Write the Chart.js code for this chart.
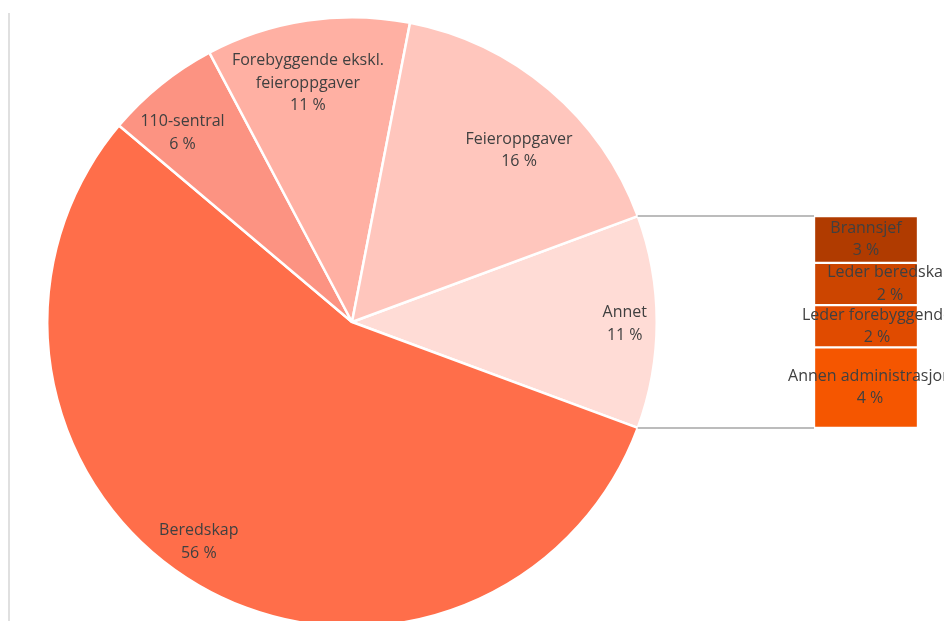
<!DOCTYPE html>
<html>
<head>
<meta charset="utf-8">
<script src="https://cdn.jsdelivr.net/npm/chart.js@4.4.0/dist/chart.umd.min.js"></script>
<style>
  html, body { margin: 0; padding: 0; background: #fff; overflow: hidden; width: 944px; height: 621px; }
  #wrap { position: relative; width: 944px; height: 621px; overflow: hidden; }
  #edge { position: absolute; left: 8px; top: 13px; width: 2px; height: 620px; background: #e0e0e0; }
  canvas { position: absolute; left: 0; top: 0; }
</style>
</head>
<body>
<div id="wrap">
  <div id="edge"></div>
  <canvas id="pie" width="944" height="650"></canvas>
  <canvas id="bar" width="944" height="650"></canvas>
</div>
<script>
// --- data ---
const pieLabels = ['Annet', 'Beredskap', '110-sentral', 'Forebyggende ekskl.\nfeieroppgaver', 'Feieroppgaver'];
const pieValues = [11.3, 55.5, 6.1, 10.8, 16.3];
const pieColors = ['#FFDCD6', '#FF6E4A', '#FC9382', '#FFB0A3', '#FFC6BD'];

const subLabels = ['Annen administrasjon', 'Leder forebyggende', 'Leder beredskap', 'Brannsjef'];
const subValues = [4.3, 2.25, 2.25, 2.5];
const subColors = ['#F55600', '#E04B00', '#CC4500', '#B03B00'];

// label placement inside slices (radius factor, angle shift in degrees)
const labelRadius = [0.895, 0.88, 0.833, 0.797, 0.786];
const labelShift = [0.4, 4.6, -3.0, -2, 3.9];
// horizontal nudge of the bar labels (px)
const subLabelNudge = [4, 11, 24, 0];

const FONT = '16px "Open Sans"';
const TEXT = '#404040';
const LINE_H = 22.5;

const pieTotal = pieValues.reduce((a, b) => a + b, 0);
const subTotal = subValues.reduce((a, b) => a + b, 0);

function drawLines(ctx, lines, x, y) {
  lines.forEach((t, j) => ctx.fillText(t, x, y + (j - (lines.length - 1) / 2) * LINE_H));
}

// --- pie labels ---
const pieLabelPlugin = {
  id: 'pieLabels',
  afterDatasetsDraw(chart) {
    const ctx = chart.ctx;
    const meta = chart.getDatasetMeta(0);
    ctx.save();
    ctx.font = FONT;
    ctx.fillStyle = TEXT;
    ctx.textAlign = 'center';
    ctx.textBaseline = 'middle';
    meta.data.forEach((arc, i) => {
      const a = (arc.startAngle + arc.endAngle) / 2 + labelShift[i] * Math.PI / 180;
      const r = arc.outerRadius * labelRadius[i];
      const x = arc.x + Math.cos(a) * r;
      const y = arc.y + Math.sin(a) * r;
      const lines = pieLabels[i].split('\n').concat(Math.round(pieValues[i] / pieTotal * 100) + ' %');
      drawLines(ctx, lines, x, y);
    });
    ctx.restore();
  }
};

// Annet slice centred on the right side
const annetAngle = pieValues[0] / pieTotal * 360;

const pieChart = new Chart(document.getElementById('pie'), {
  type: 'pie',
  data: {
    labels: pieLabels,
    datasets: [{
      data: pieValues,
      backgroundColor: pieColors,
      borderColor: '#ffffff',
      borderWidth: 2.5,
      hoverOffset: 0,
      offset: 0
    }]
  },
  options: {
    responsive: false,
    animation: false,
    rotation: 90 - annetAngle / 2,
    layout: { padding: { left: 46, right: 286, top: 16, bottom: 22 } },
    plugins: { legend: { display: false }, tooltip: { enabled: false } }
  },
  plugins: [pieLabelPlugin]
});

// --- bar of pie ---
const barPlugin = {
  id: 'barExtras',
  beforeDatasetsDraw(chart) {
    // connector lines from the Annet slice to the stacked bar
    const ctx = chart.ctx;
    const arc = pieChart.getDatasetMeta(0).data[0];
    const top = chart.getDatasetMeta(subValues.length - 1).data[0];
    const bottom = chart.getDatasetMeta(0).data[0];
    const left = top.x - top.width / 2;
    ctx.save();
    ctx.strokeStyle = '#a6a6a6';
    ctx.lineWidth = 1.5;
    ctx.beginPath();
    ctx.moveTo(arc.x + Math.cos(arc.startAngle) * arc.outerRadius, arc.y + Math.sin(arc.startAngle) * arc.outerRadius);
    ctx.lineTo(left, top.y);
    ctx.moveTo(arc.x + Math.cos(arc.endAngle) * arc.outerRadius, arc.y + Math.sin(arc.endAngle) * arc.outerRadius);
    ctx.lineTo(left, bottom.base);
    ctx.stroke();
    ctx.restore();
  },
  afterDatasetsDraw(chart) {
    const ctx = chart.ctx;
    ctx.save();
    ctx.font = FONT;
    ctx.fillStyle = TEXT;
    ctx.textAlign = 'center';
    ctx.textBaseline = 'middle';
    subLabels.forEach((l, i) => {
      const bar = chart.getDatasetMeta(i).data[0];
      const lines = [l, Math.round(subValues[i] / pieTotal * 100) + ' %'];
      drawLines(ctx, lines, bar.x + subLabelNudge[i], (bar.y + bar.base) / 2);
    });
    ctx.restore();
  }
};

new Chart(document.getElementById('bar'), {
  type: 'bar',
  data: {
    labels: ['Annet'],
    datasets: subLabels.map((l, i) => ({
      label: l,
      data: [subValues[i]],
      backgroundColor: subColors[i],
      borderColor: '#ffffff',
      borderWidth: 1.5,
      borderSkipped: false,
      barPercentage: 1,
      categoryPercentage: 1
    }))
  },
  options: {
    responsive: false,
    animation: false,
    layout: { padding: { left: 814, right: 26, top: 216, bottom: 222 } },
    scales: {
      x: { display: false, stacked: true },
      y: { display: false, stacked: true, min: 0, max: subTotal }
    },
    plugins: { legend: { display: false }, tooltip: { enabled: false } }
  },
  plugins: [barPlugin]
});
</script>
</body>
</html>
